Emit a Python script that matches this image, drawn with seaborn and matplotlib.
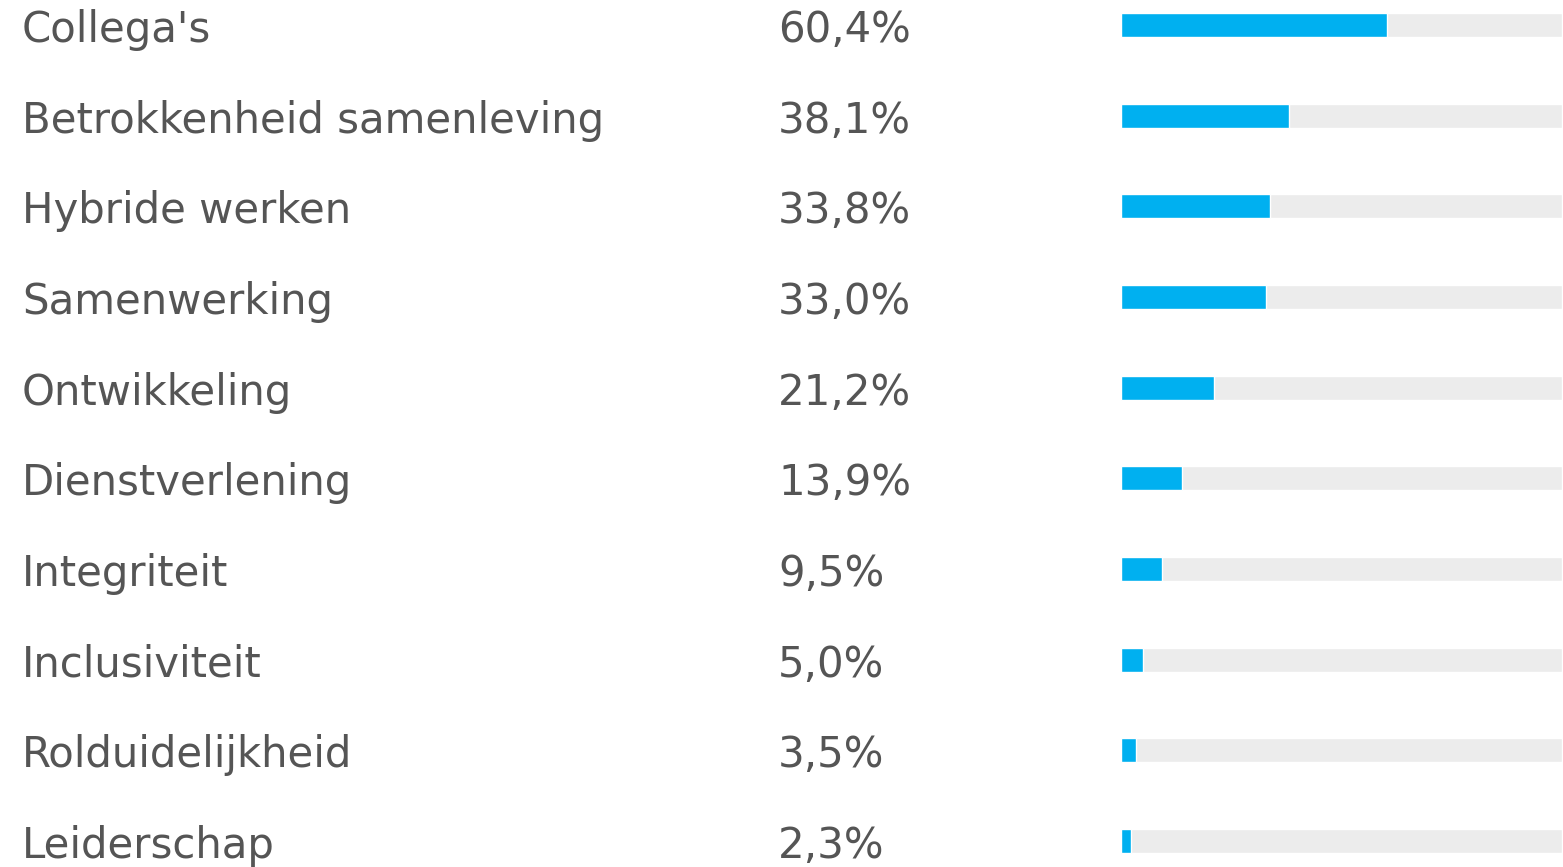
import matplotlib
matplotlib.use("Agg")
import seaborn as sns
import matplotlib.pyplot as plt
import matplotlib.transforms as mtransforms
import pandas as pd

categories = ["Collega's", "Betrokkenheid samenleving", "Hybride werken", "Samenwerking",
              "Ontwikkeling", "Dienstverlening", "Integriteit", "Inclusiviteit",
              "Rolduidelijkheid", "Leiderschap"]
values = [60.4, 38.1, 33.8, 33.0, 21.2, 13.9, 9.5, 5.0, 3.5, 2.3]
value_labels = ["60,4%", "38,1%", "33,8%", "33,0%", "21,2%", "13,9%", "9,5%", "5,0%", "3,5%", "2,3%"]

sns.set_theme(style="white")
plt.rcParams['font.family'] = ['DejaVu Sans']

df = pd.DataFrame({"cat": categories, "val": values, "full": [100] * len(values)})

W, H = 1563, 867
fig = plt.figure(figsize=(W / 100, H / 100), dpi=100)
ax = fig.add_axes([1120.5 / W, 0, 441.5 / W, 1])

row = (841 - 25) / 9
bar_h = 24 / row

sns.barplot(data=df, y="cat", x="full", color="#ececec", width=bar_h,
            orient="h", ax=ax, saturation=1)
sns.barplot(data=df, y="cat", x="val", color="#00b0f0", width=bar_h,
            orient="h", ax=ax, saturation=1)

ax.set_xlim(0, 100)
ax.set_ylim(9 + (H - 841) / row, -25 / row)
ax.axis("off")

trans = mtransforms.blended_transform_factory(fig.transFigure, ax.transData)
txt_color = "#555555"
for i, (c, v) in enumerate(zip(categories, value_labels)):
    y = i + 17 / row
    ax.text(22 / W, y, c, transform=trans, fontsize=30.2, color=txt_color,
            va="baseline", ha="left", clip_on=False)
    ax.text(778 / W, y, v, transform=trans, fontsize=30.2, color=txt_color,
            va="baseline", ha="left", clip_on=False)

fig.savefig("out.png", dpi=100)
